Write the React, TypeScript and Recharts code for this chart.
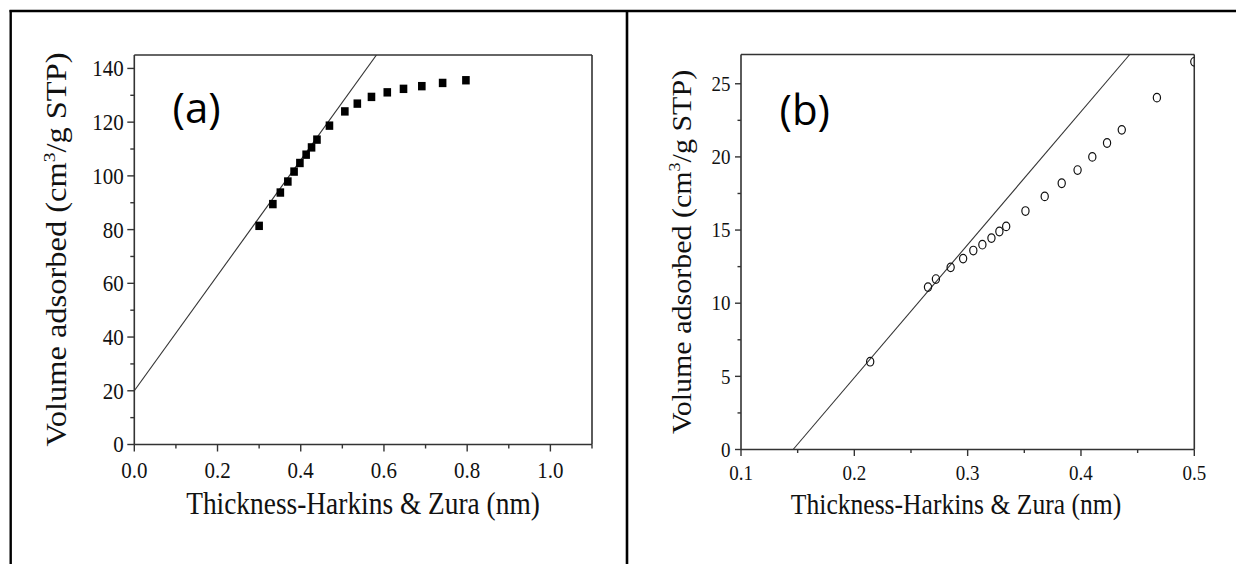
import React from 'react';
import { ScatterChart, Scatter, XAxis, YAxis, ReferenceLine } from 'recharts';

const SERIF = '"Liberation Serif", "Times New Roman", serif';
const SANS = '"Open Sans", "Noto Sans", sans-serif';
const STRETCH = 1.12;
const AXIS = '#333';

// ---------- Panel (a) ----------
const aThickness = [0.300, 0.333, 0.351, 0.369, 0.384, 0.398, 0.413, 0.426, 0.439, 0.469, 0.506, 0.536, 0.570, 0.608, 0.647, 0.691, 0.741, 0.797];
const aVolume = [81.4, 89.5, 93.8, 97.9, 101.6, 104.8, 107.9, 110.6, 113.5, 118.7, 124.0, 126.9, 129.4, 131.1, 132.4, 133.4, 134.6, 135.6];
const aFitThickness = [0, 0.582];
const aFitVolume = [20, 145];
const aXMajor = [0, 0.2, 0.4, 0.6, 0.8, 1.0];
const aXMinor = [0.1, 0.3, 0.5, 0.7, 0.9, 1.1];
const aYMajor = [0, 20, 40, 60, 80, 100, 120, 140];
const aYMinor = [10, 30, 50, 70, 90, 110, 130];
const aXDomain = [0, 1.1];
const aYDomain = [0, 145];

// ---------- Panel (b) ----------
const bThickness = [0.214, 0.265, 0.272, 0.285, 0.296, 0.305, 0.313, 0.321, 0.328, 0.334, 0.351, 0.368, 0.383, 0.397, 0.410, 0.423, 0.436, 0.467, 0.500];
const bVolume = [6.0, 11.1, 11.65, 12.45, 13.05, 13.6, 14.0, 14.45, 14.9, 15.25, 16.3, 17.3, 18.2, 19.1, 20.0, 20.95, 21.85, 24.05, 26.5];
const bFitThickness = [0.146, 0.443];
const bFitVolume = [0, 27];
const bXMajor = [0.1, 0.2, 0.3, 0.4, 0.5];
const bXMinor = [0.15, 0.25, 0.35, 0.45];
const bYMajor = [0, 5, 10, 15, 20, 25];
const bYMinor = [2.5, 7.5, 12.5, 17.5, 22.5];
const bXDomain = [0.1, 0.5];
const bYDomain = [0, 27];

const xLabel = 'Thickness-Harkins & Zura (nm)';

const zip = (xs: number[], ys: number[]) => xs.map((x, i) => ({ x, y: ys[i] }));

type TickOpts = {
  axis: 'x' | 'y';
  majors: number[];
  major: number;
  minor: number;
  fontSize: number;
  offset: number;
  decimals: number;
};

function makeTick(o: TickOpts) {
  return (props: any) => {
    const { x, y, payload } = props;
    const v = payload.value as number;
    const isMajor = o.majors.some((m) => Math.abs(m - v) < 1e-9);
    const len = isMajor ? o.major : o.minor;
    const label = v.toFixed(o.decimals);
    if (o.axis === 'x') {
      return (
        <g>
          <line x1={x} x2={x} y1={y} y2={y + len} stroke={AXIS} strokeWidth={1.4} />
          {isMajor && (
            <text
              transform={`translate(${x},${y + o.offset}) scale(1,${STRETCH})`}
              textAnchor="middle"
              fontSize={o.fontSize}
              fontFamily={SERIF}
              fill="#111"
            >
              {label}
            </text>
          )}
        </g>
      );
    }
    return (
      <g>
        <line x1={x - len} x2={x} y1={y} y2={y} stroke={AXIS} strokeWidth={1.4} />
        {isMajor && (
          <text
            transform={`translate(${x - o.offset},${y + o.fontSize * 0.676 * STRETCH / 2}) scale(1,${STRETCH})`}
            textAnchor="end"
            fontSize={o.fontSize}
            fontFamily={SERIF}
            fill="#111"
          >
            {label}
          </text>
        )}
      </g>
    );
  };
}

const squareShape = (p: any) => (
  <rect x={p.cx - 3.8} y={p.cy - 4.2} width={7.6} height={8.4} fill="#000" />
);
const circleShape = (p: any) => (
  <ellipse cx={p.cx} cy={p.cy} rx={3.6} ry={4.3} fill="none" stroke="#111" strokeWidth={1.2} />
);
const noShape = () => <g />;

function PanelA() {
  return (
    <ScatterChart
      width={620}
      height={564}
      margin={{ top: 55, right: 28, bottom: 59.5, left: 64.3 }}
    >
      <XAxis
        type="number"
        dataKey="x"
        domain={aXDomain}
        ticks={[...aXMajor, ...aXMinor].sort((p, q) => p - q)}
        interval={0}
        height={60}
        tickSize={0}
        tickMargin={0}
        tickLine={false}
        axisLine={{ stroke: AXIS, strokeWidth: 1.6 }}
        tick={makeTick({ axis: 'x', majors: aXMajor, major: 7, minor: 4, fontSize: 21, offset: 33.5, decimals: 1 })}
        allowDataOverflow
      />
      <YAxis
        type="number"
        dataKey="y"
        domain={aYDomain}
        ticks={[...aYMajor, ...aYMinor].sort((p, q) => p - q)}
        interval={0}
        width={70}
        tickSize={0}
        tickMargin={0}
        tickLine={false}
        axisLine={{ stroke: AXIS, strokeWidth: 1.6 }}
        tick={makeTick({ axis: 'y', majors: aYMajor, major: 7, minor: 4, fontSize: 21, offset: 10.5, decimals: 0 })}
        allowDataOverflow
      />
      <ReferenceLine y={145} stroke={AXIS} strokeWidth={1.6} ifOverflow="visible" />
      <ReferenceLine x={1.1} stroke={AXIS} strokeWidth={1.6} ifOverflow="visible" />
      <Scatter
        data={zip(aFitThickness, aFitVolume)}
        line={{ stroke: '#333', strokeWidth: 1.1 }}
        shape={noShape}
        isAnimationActive={false}
      />
      <Scatter data={zip(aThickness, aVolume)} shape={squareShape} isAnimationActive={false} />
    </ScatterChart>
  );
}

function PanelB() {
  return (
    <ScatterChart
      width={616}
      height={564}
      margin={{ top: 54.5, right: 41.7, bottom: 54.5, left: 51 }}
    >
      <XAxis
        type="number"
        dataKey="x"
        domain={bXDomain}
        ticks={[...bXMajor, ...bXMinor].sort((p, q) => p - q)}
        interval={0}
        height={60}
        tickSize={0}
        tickMargin={0}
        tickLine={false}
        axisLine={{ stroke: AXIS, strokeWidth: 1.6 }}
        tick={makeTick({ axis: 'x', majors: bXMajor, major: 6.5, minor: 3.5, fontSize: 19, offset: 30.5, decimals: 1 })}
        allowDataOverflow
      />
      <YAxis
        type="number"
        dataKey="y"
        domain={bYDomain}
        ticks={[...bYMajor, ...bYMinor].sort((p, q) => p - q)}
        interval={0}
        width={70}
        tickSize={0}
        tickMargin={0}
        tickLine={false}
        axisLine={{ stroke: AXIS, strokeWidth: 1.6 }}
        tick={makeTick({ axis: 'y', majors: bYMajor, major: 6, minor: 3.5, fontSize: 19, offset: 10.5, decimals: 0 })}
        allowDataOverflow
      />
      <ReferenceLine y={27} stroke={AXIS} strokeWidth={1.6} ifOverflow="visible" />
      <ReferenceLine x={0.5} stroke={AXIS} strokeWidth={1.6} ifOverflow="visible" />
      <Scatter
        data={zip(bFitThickness, bFitVolume)}
        line={{ stroke: '#333', strokeWidth: 1.1 }}
        shape={noShape}
        isAnimationActive={false}
      />
      <Scatter data={zip(bThickness, bVolume)} shape={circleShape} isAnimationActive={false} />
    </ScatterChart>
  );
}

function YTitle({ x, y, size }: { x: number; y: number; size: number }) {
  return (
    <text
      transform={`translate(${x},${y}) rotate(-90) scale(${STRETCH},1)`}
      textAnchor="middle"
      fontSize={size}
      fontFamily={SERIF}
      fill="#111"
    >
      <tspan>Volume adsorbed (cm</tspan>
      <tspan fontSize={size * 0.6} dy={-size * 0.38}>3</tspan>
      <tspan dy={size * 0.38}>/g STP)</tspan>
    </text>
  );
}

function XTitle({ x, y, size }: { x: number; y: number; size: number }) {
  return (
    <text
      transform={`translate(${x},${y}) scale(1,${STRETCH})`}
      textAnchor="middle"
      fontSize={size}
      fontFamily={SERIF}
      fill="#111"
    >
      {xLabel}
    </text>
  );
}

export default function App() {
  return (
    <div style={{ position: 'absolute', left: 0, top: 0, width: 1236, height: 564, background: '#fff', overflow: 'hidden' }}>
      <div style={{ position: 'absolute', left: 0, top: 0 }}>
        <PanelA />
      </div>
      <div style={{ position: 'absolute', left: 620, top: 0 }}>
        <PanelB />
      </div>
      <svg
        width={1236}
        height={564}
        style={{ position: 'absolute', left: 0, top: 0, pointerEvents: 'none' }}
      >
        {/* mask: the reference clips the last marker of panel (b) at the plot frame */}
        <rect x={1195.2} y={50} width={30} height={30} fill="#fff" />
        <line x1={9.5} x2={1236} y1={11} y2={11} stroke="#000" strokeWidth={2.4} />
        <line x1={10.7} x2={10.7} y1={10} y2={564} stroke="#000" strokeWidth={2.4} />
        <line x1={627} x2={627} y1={10} y2={564} stroke="#000" strokeWidth={2.6} />
        <text x={172.5} y={123} fontSize={42} fontFamily={SANS} fill="#000">(a)</text>
        <text x={779.5} y={125} fontSize={42} fontFamily={SANS} fill="#000">(b)</text>
        <XTitle x={363} y={513.5} size={27.4} />
        <XTitle x={956} y={513.5} size={25.6} />
        <YTitle x={66} y={249.5} size={29} />
        <YTitle x={690.5} y={252} size={26.8} />
      </svg>
    </div>
  );
}
